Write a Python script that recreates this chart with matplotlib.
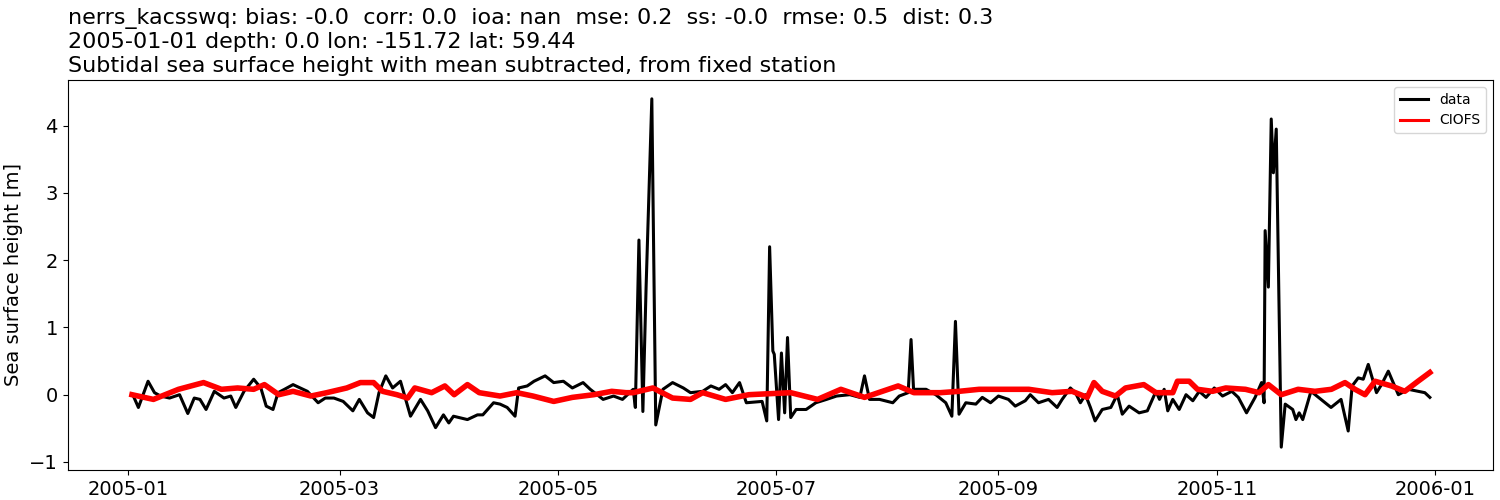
import pandas as pd
import matplotlib.pyplot as plt
import matplotlib.dates as mdates

START = pd.Timestamp("2005-01-01")

# observed station data (day of year, value) - rows kept aligned
data_days = [1.4, 2.8, 5.5, 7.3, 9, 11.5, 14.3, 16.6, 18.4, 20,
             21.7, 24, 26.7, 28.6, 30, 32.3, 35, 37, 38.5, 40.4,
             41.8, 43.6, 46, 48, 50, 53, 55, 57.4, 60, 62.7,
             64.5, 66.8, 68.5, 70, 71.9, 73.8, 76, 78.8, 81.6, 83.6,
             85.8, 88, 89.5, 90.8, 94.7, 97.5, 99, 102, 103.8, 105.8,
             108, 109, 111.4, 113.3, 116.4, 118.8, 121.5, 124, 127, 129,
             132.6, 135.5, 138, 141, 141.6, 142.6, 143.7, 144.6, 146.2, 147.3,
             149.3, 152, 155, 157, 160.4, 162.7, 165, 166.8, 168.7, 170.7,
             172.6, 177, 178.3, 179.1, 180, 180.4, 181.6, 182.4, 183.3, 184.1,
             185, 186.5, 189.3, 192, 195, 197.8, 201.5, 204.3, 205.6, 207,
             209.8, 213.5, 215.3, 217.8, 218.6, 219.3, 222.8, 225.5, 228.3, 230,
             231, 232, 233.9, 236.7, 238.5, 240.8, 243, 245.8, 247.7, 250.5,
             251.9, 254.2, 257, 259.4, 260.8, 263.1, 264.5, 265.9, 267.3, 268.7,
             270, 272, 274.4, 276.2, 277.6, 279.5, 282.3, 284.6, 287, 288,
             289.3, 290.3, 291.7, 293.5, 295.4, 297.3, 299.1, 301, 303.3, 305.6,
             308.2, 310, 312.3, 314.7, 316.5, 317.2, 317.5, 318.4, 319.2, 319.8,
             320.6, 322, 323.1, 325.2, 326.1, 327, 328, 330.3, 333.1, 335.9,
             338.7, 340.7, 341.8, 343.5, 344.9, 346.3, 348.6, 350, 351.9, 354.7,
             357.5, 360.2, 362.1, 363.5]
data_vals = [-0.02, -0.19, 0.2, 0.03, -0.02, -0.05, 0, -0.28, -0.05, -0.07,
             -0.22, 0.05, -0.05, -0.02, -0.19, 0.05, 0.23, 0.1, -0.17, -0.22,
             0.03, 0.08, 0.15, 0.1, 0.05, -0.12, -0.05, -0.05, -0.1, -0.24,
             -0.07, -0.27, -0.34, 0.03, 0.28, 0.1, 0.2, -0.32, -0.07, -0.24,
             -0.49, -0.3, -0.42, -0.32, -0.37, -0.3, -0.3, -0.12, -0.14, -0.19,
             -0.32, 0.1, 0.13, 0.2, 0.28, 0.18, 0.2, 0.1, 0.18, 0.08,
             -0.07, -0.02, -0.07, 0.08, -0.19, 2.3, -0.25, 1.6, 4.4, -0.45,
             0.08, 0.18, 0.1, 0.03, 0.05, 0.13, 0.08, 0.15, 0.03, 0.18,
             -0.12, -0.1, -0.39, 2.2, 0.65, 0.6, -0.37, 0.62, -0.27, 0.85,
             -0.34, -0.22, -0.22, -0.12, -0.07, -0.02, 0, -0.04, 0.28, -0.07,
             -0.07, -0.12, -0.02, 0.03, 0.82, 0.08, 0.08, 0, -0.12, -0.32,
             1.09, -0.29, -0.12, -0.14, -0.04, -0.12, -0.02, -0.07, -0.17, -0.09,
             0, -0.12, -0.07, -0.19, -0.07, 0.1, 0.03, -0.12, 0, -0.19,
             -0.39, -0.22, -0.19, 0, -0.29, -0.17, -0.27, -0.24, 0.05, -0.07,
             0.08, -0.24, -0.07, -0.22, 0, -0.09, 0.05, -0.04, 0.1, -0.02,
             0.05, -0.04, -0.27, -0.04, 0.18, -0.12, 2.44, 1.6, 4.1, 3.3,
             3.95, -0.78, -0.14, -0.22, -0.37, -0.27, -0.37, 0.05, -0.07, -0.19,
             -0.07, -0.54, 0.13, 0.25, 0.23, 0.45, 0.03, 0.15, 0.35, 0,
             0.08, 0.05, 0.03, -0.04]

# CIOFS model (day of year, value)
model_days = [1, 7, 14, 21, 26, 30.5, 35, 38, 42, 46,
              51, 55.4, 61, 64.8, 68.5, 71, 75, 78, 80, 84.7,
              88.4, 91, 94.7, 98, 103.8, 108.5, 113, 118.8, 124, 130,
              135, 139, 141, 146.5, 152, 157, 160.4, 166.8, 173.3, 185,
              192.5, 199, 205.6, 215, 219.4, 226.8, 232, 237.6, 245.9, 251.5,
              258, 263.6, 267.8, 269.7, 272, 275.7, 278.5, 283.6, 287, 291.7,
              293, 296.3, 298.6, 302.8, 306.5, 312, 315.8, 318.4, 322, 326.7,
              331.4, 336, 339.8, 342.6, 345.4, 348.2, 352.8, 356.5, 360.2, 363.5]
model_vals = [0, -0.07, 0.08, 0.18, 0.08, 0.1, 0.08, 0.15, 0, 0.05,
              -0.02, 0.03, 0.1, 0.18, 0.18, 0.05, 0, -0.05, 0.1, 0.03,
              0.13, 0, 0.15, 0.03, -0.02, 0.03, -0.02, -0.1, -0.04, 0,
              0.05, 0.03, 0.03, 0.1, -0.05, -0.07, 0.03, -0.07, 0, 0.03,
              -0.07, 0.08, -0.04, 0.13, 0.03, 0.03, 0.05, 0.08, 0.08, 0.08,
              0.03, 0.05, -0.04, 0.18, 0.05, -0.02, 0.1, 0.15, 0.03, 0.03,
              0.2, 0.2, 0.08, 0.05, 0.1, 0.08, 0.03, 0.15, 0, 0.08,
              0.05, 0.08, 0.18, 0.08, 0, 0.2, 0.13, 0.05, 0.2, 0.33]

title = ("nerrs_kacsswq: bias: -0.0  corr: 0.0  ioa: nan  mse: 0.2  ss: -0.0  rmse: 0.5  dist: 0.3\n"
         "2005-01-01 depth: 0.0 lon: -151.72 lat: 59.44\n"
         "Subtidal sea surface height with mean subtracted, from fixed station")

data_t = START + pd.to_timedelta(data_days, unit="D")
model_t = START + pd.to_timedelta(model_days, unit="D")

fig, ax = plt.subplots(figsize=(15, 5), dpi=100)
fig.subplots_adjust(left=0.045, right=0.995, top=0.84, bottom=0.06)

ax.plot(data_t, data_vals, color="black", lw=2.2, label="data")
ax.plot(model_t, model_vals, color="red", lw=4, label="CIOFS")

ax.set_ylim(-1.12, 4.68)
ax.set_xlim(pd.Timestamp("2004-12-15"), pd.Timestamp("2006-01-17"))
ax.xaxis.set_major_locator(mdates.MonthLocator(bymonth=[1, 3, 5, 7, 9, 11]))
ax.xaxis.set_major_formatter(mdates.DateFormatter("%Y-%m"))
ax.tick_params(labelsize=14)
ax.set_ylabel("Sea surface height [m]", fontsize=14)
ax.set_title(title, loc="left", fontsize=16)
leg = ax.legend(loc="upper right", fontsize=10)
leg.get_lines()[1].set_linewidth(2.2)

plt.savefig("out.png", dpi=100)
